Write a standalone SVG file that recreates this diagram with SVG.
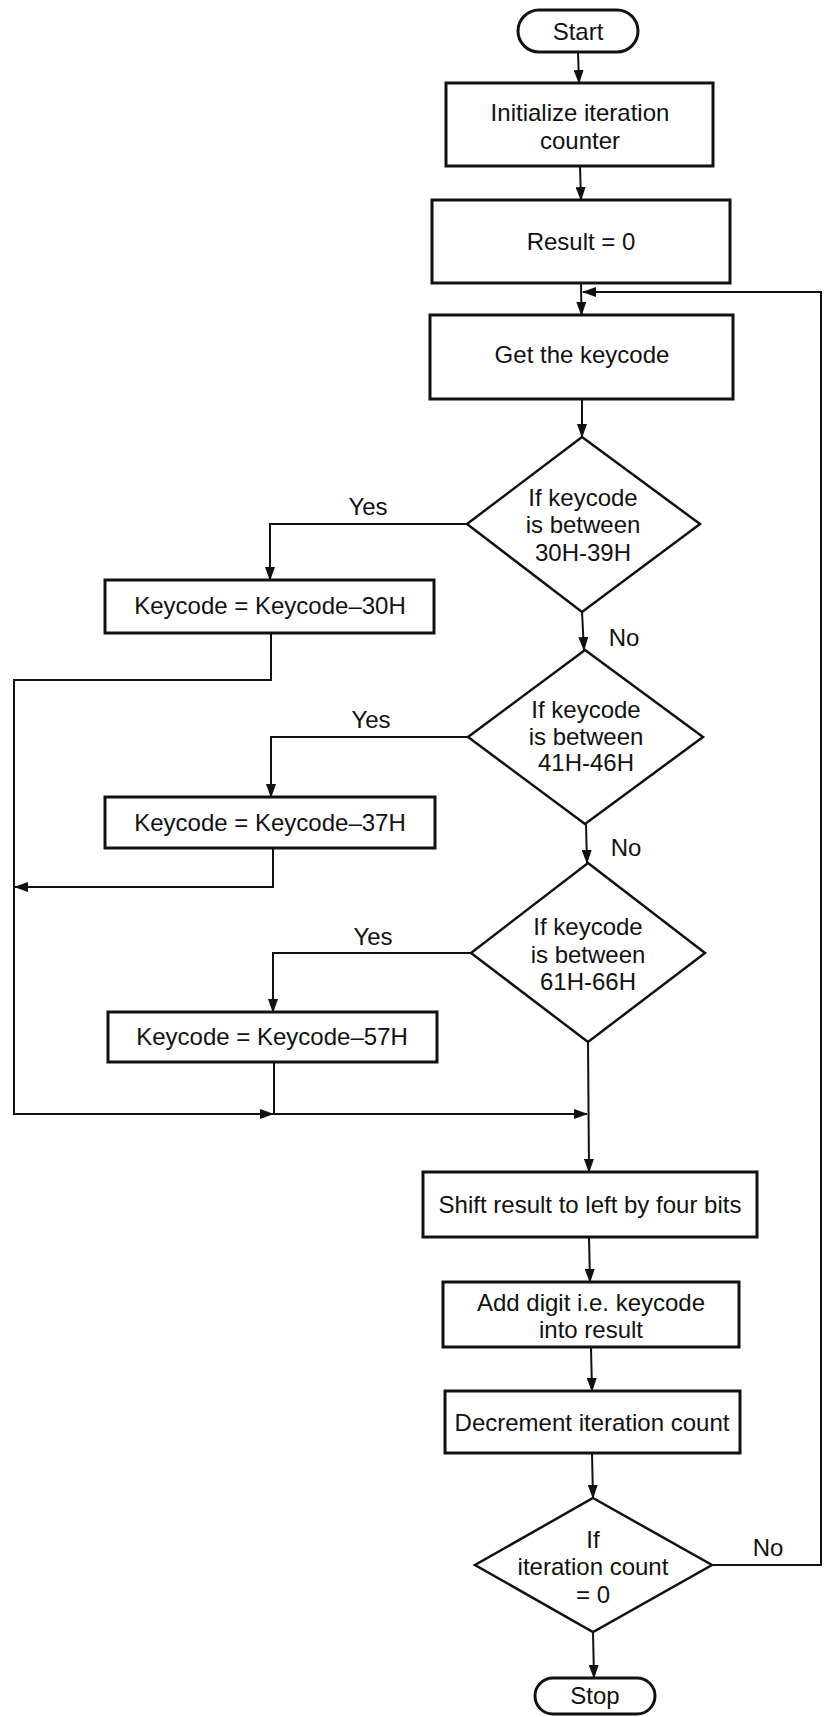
<svg xmlns="http://www.w3.org/2000/svg" width="825" height="1717" viewBox="0 0 825 1717">
<style>
.box{fill:#fff;stroke:#111;stroke-width:3}
.dia{fill:#fff;stroke:#111;stroke-width:2.5}
.c{fill:none;stroke:#111;stroke-width:2}
text{font-family:"Liberation Sans",Arial,sans-serif;font-size:24px;fill:#111;text-anchor:middle}
</style>
<defs>
<marker id="ah" markerUnits="userSpaceOnUse" markerWidth="14" markerHeight="10" refX="13" refY="5" orient="auto">
<path d="M0,0 L14,5 L0,10 z" fill="#111"/>
</marker>
</defs>
<rect width="825" height="1717" fill="#fff"/>
<g id="connectors">
<path class="c" d="M578,52 L579,83" marker-end="url(#ah)"/>
<path class="c" d="M580,166 L581,200" marker-end="url(#ah)"/>
<path class="c" d="M581,283 L581.5,315" marker-end="url(#ah)"/>
<path class="c" d="M582,399 L582,437" marker-end="url(#ah)"/>
<path class="c" d="M467,524 H270 V580" marker-end="url(#ah)"/>
<path class="c" d="M271,633 V680 H14 V1114 H273" marker-end="url(#ah)"/>
<path class="c" d="M273,1114 H587" marker-end="url(#ah)"/>
<path class="c" d="M582,612 L584,650" marker-end="url(#ah)"/>
<path class="c" d="M468,737 H271 V797" marker-end="url(#ah)"/>
<path class="c" d="M273,848 V887 H15" marker-end="url(#ah)"/>
<path class="c" d="M586,824 L587,863" marker-end="url(#ah)"/>
<path class="c" d="M471,953 H273 V1012" marker-end="url(#ah)"/>
<path class="c" d="M274,1062 V1114"/>
<path class="c" d="M588,1042 L589,1172" marker-end="url(#ah)"/>
<path class="c" d="M589,1237 L590,1282" marker-end="url(#ah)"/>
<path class="c" d="M591,1347 L592,1391" marker-end="url(#ah)"/>
<path class="c" d="M592,1453 L593,1498" marker-end="url(#ah)"/>
<path class="c" d="M712,1565 H821 V292 H583" marker-end="url(#ah)"/>
<path class="c" d="M593,1632 L594,1678" marker-end="url(#ah)"/>
<text x="368" y="515">Yes</text>
<text x="371" y="728">Yes</text>
<text x="373" y="945">Yes</text>
<text x="624" y="646">No</text>
<text x="626" y="856">No</text>
<text x="768" y="1556">No</text>
</g>
<g id="start"><rect class="box" x="518" y="10" width="120" height="42" rx="21"/><text x="578" y="40">Start</text></g>
<g id="init"><rect class="box" x="446" y="83" width="267" height="83"/><text x="580" y="121">Initialize iteration</text><text x="580" y="149">counter</text></g>
<g id="result0"><rect class="box" x="432" y="200" width="298" height="83"/><text x="581" y="250">Result = 0</text></g>
<g id="getkey"><rect class="box" x="430" y="315" width="303" height="84"/><text x="582" y="363">Get the keycode</text></g>
<g id="dec1"><polygon class="dia" points="582,437 700,524 582,612 467,524"/><text x="583" y="506">If keycode</text><text x="583" y="533">is between</text><text x="583" y="561">30H-39H</text></g>
<g id="sub30"><rect class="box" x="105" y="580" width="329" height="53"/><text x="270" y="614">Keycode = Keycode–30H</text></g>
<g id="dec2"><polygon class="dia" points="585,650 703,737 585,824 468,737"/><text x="586" y="718">If keycode</text><text x="586" y="745">is between</text><text x="586" y="771">41H-46H</text></g>
<g id="sub37"><rect class="box" x="105" y="797" width="330" height="51"/><text x="270" y="831">Keycode = Keycode–37H</text></g>
<g id="dec3"><polygon class="dia" points="588,863 705,953 588,1042 471,953"/><text x="588" y="935">If keycode</text><text x="588" y="963">is between</text><text x="588" y="990">61H-66H</text></g>
<g id="sub57"><rect class="box" x="108" y="1012" width="329" height="50"/><text x="272" y="1045">Keycode = Keycode–57H</text></g>
<g id="shift"><rect class="box" x="423" y="1172" width="334" height="65"/><text x="590" y="1213">Shift result to left by four bits</text></g>
<g id="add"><rect class="box" x="443" y="1282" width="296" height="65"/><text x="591" y="1311">Add digit i.e. keycode</text><text x="591" y="1338">into result</text></g>
<g id="decr"><rect class="box" x="445" y="1391" width="295" height="62"/><text x="592" y="1431">Decrement iteration count</text></g>
<g id="dec4"><polygon class="dia" points="593,1498 712,1565 593,1632 475,1565"/><text x="593" y="1548">If</text><text x="593" y="1575">iteration count</text><text x="593" y="1603">= 0</text></g>
<g id="stop"><rect class="box" x="535" y="1678" width="120" height="36" rx="18"/><text x="595" y="1704">Stop</text></g>
</svg>
